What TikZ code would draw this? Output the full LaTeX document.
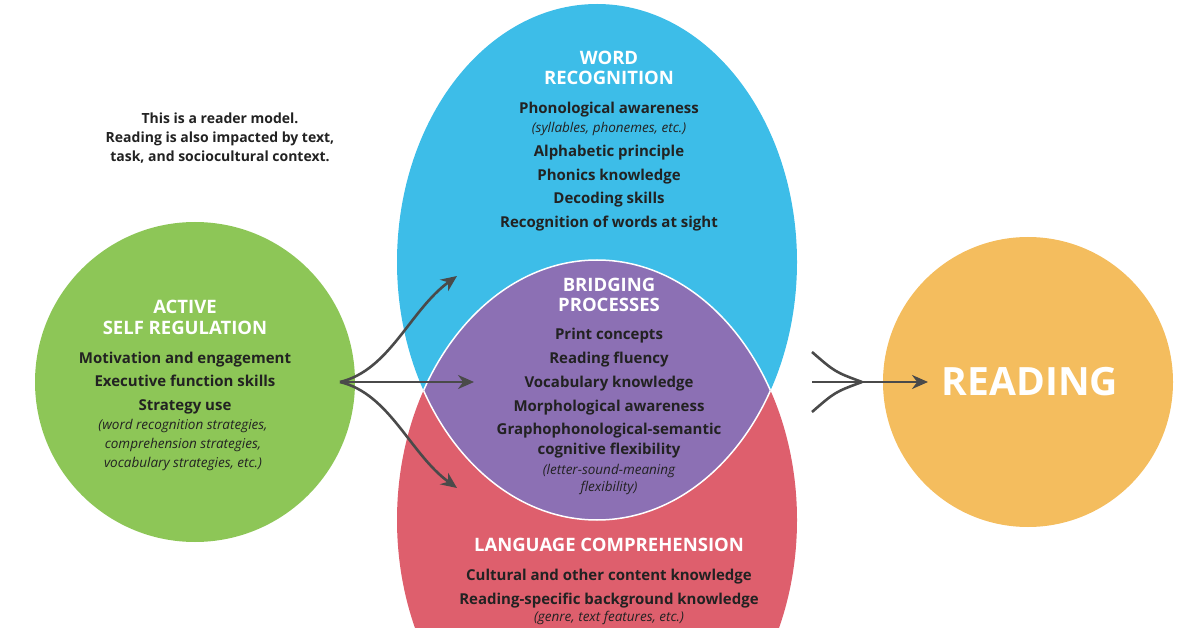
\documentclass[tikz,border=0pt]{standalone}
\usepackage{fontspec}
\setmainfont{Open Sans}
\usetikzlibrary{arrows.meta,positioning}
\definecolor{wordblue}{HTML}{3DBDE8}
\definecolor{langred}{HTML}{DE5F6D}
\definecolor{bridgepurple}{HTML}{8C70B4}
\definecolor{selfgreen}{HTML}{8DC657}
\definecolor{readorange}{HTML}{F4BD5E}
\definecolor{arrowgray}{HTML}{4A4A4A}
\definecolor{textdark}{HTML}{222222}
\begin{document}
\begin{tikzpicture}[x=1pt,y=-1pt]

\tikzstyle{head} = [text=white, font=\fontsize{18.5}{20}\selectfont\bfseries, anchor=base, inner sep=0pt]
\tikzstyle{items} = [text=textdark, font=\fontsize{15}{18}\selectfont\bfseries, anchor=base, inner sep=0pt]
\tikzstyle{notes} = [text=textdark, font=\fontsize{13.5}{18}\selectfont\itshape, anchor=base, inner sep=0pt]
\tikzstyle{arrow} = [arrowgray, line width=2.6pt, -{Stealth[length=16pt,width=14pt]}]

\useasboundingbox (0,0) rectangle (1200,628);

%% -- shapes --
\fill[wordblue] (597,262) ellipse [x radius=200, y radius=258];
\fill[langred] (597,520) ellipse [x radius=200, y radius=260];
\begin{scope}
  \clip (597,262) ellipse [x radius=200, y radius=258];
  \fill[bridgepurple] (597,520) ellipse [x radius=200, y radius=260];
  \draw[white, line width=1.5pt] (597,520) ellipse [x radius=200, y radius=260];
\end{scope}
\begin{scope}
  \clip (597,520) ellipse [x radius=200, y radius=260];
  \draw[white, line width=1.5pt] (597,262) ellipse [x radius=200, y radius=258];
\end{scope}
\node (self) [circle, fill=selfgreen, minimum size=320pt] at (195,382) {};
\node (read) [circle, fill=readorange, minimum size=290pt] at (1028,382) {};

%% -- texts --
\foreach \t [count=\i] in {This is a reader model., {Reading is also impacted by text,}, {task, and sociocultural context.}}
  \node (note-\i) [items, font=\fontsize{14}{18}\selectfont\bfseries] at (220,124+19*\i-19) {\t};

\node (wordh-1) [head] at (609,65) {WORD};
\node (wordh-2) [head] at (609,85) {RECOGNITION};
\node (wordi) [items] at (609,114) {Phonological awareness};
\node (wordn) [notes] at (609,133) {(syllables, phonemes, etc.)};
\foreach \t [count=\i] in {Alphabetic principle, Phonics knowledge, Decoding skills, Recognition of words at sight}
  \node (wordj-\i) [items] at (609,157+23.5*\i-23.5) {\t};

\node (bridgeh-1) [head] at (609,292) {BRIDGING};
\node (bridgeh-2) [head] at (609,312) {PROCESSES};
\foreach \t [count=\i] in {Print concepts, Reading fluency, Vocabulary knowledge, Morphological awareness, Graphophonological-semantic}
  \node (bridgei-\i) [items] at (609,340+23.7*\i-23.7) {\t};
\node (bridgej) [items] at (609,454) {cognitive flexibility};
\node (bridgen-1) [notes] at (609,474) {(letter-sound-meaning};
\node (bridgen-2) [notes] at (609,491) {flexibility)};

\node (langh) [head] at (609,551) {LANGUAGE COMPREHENSION};
\node (langi-1) [items] at (609,580) {Cultural and other content knowledge};
\node (langi-2) [items] at (609,604) {Reading-specific background knowledge};
\node (langn) [notes] at (609,621) {(genre, text features, etc.)};

\node (selfh-1) [head] at (185,314) {ACTIVE};
\node (selfh-2) [head] at (185,335) {SELF REGULATION};
\foreach \t [count=\i] in {Motivation and engagement, Executive function skills, Strategy use}
  \node (selfi-\i) [items] at (185,363+23.7*\i-23.7) {\t};
\foreach \t [count=\i] in {{(word recognition strategies,}, {comprehension strategies,}, {vocabulary strategies, etc.)}}
  \node (selfn-\i) [notes] at (183,429+19*\i-19) {\t};

\node (readh) [text=white, font=\fontsize{39}{42}\selectfont\bfseries] at (1030,382) {READING};

%% -- arrows --
\coordinate (split) at (340,382);
\coordinate (tup) at (457,276);
\coordinate (tmid) at (474,382);
\coordinate (tdown) at (457,488);
\draw [arrow] (split) .. controls (390,370) and (410,310) .. (tup);
\draw [arrow] (split) -- (tmid);
\draw [arrow] (split) .. controls (390,394) and (410,454) .. (tdown);

\coordinate (inup) at (812,352);
\coordinate (indown) at (812,412);
\coordinate (join) at (862,382);
\coordinate (tread) at (928,382);
\draw [arrowgray, line width=2.6pt] (inup) .. controls (835,372) .. (join);
\draw [arrowgray, line width=2.6pt] (indown) .. controls (835,392) .. (join);
\draw [arrow] (812,382) -- (tread);

\end{tikzpicture}
\end{document}
